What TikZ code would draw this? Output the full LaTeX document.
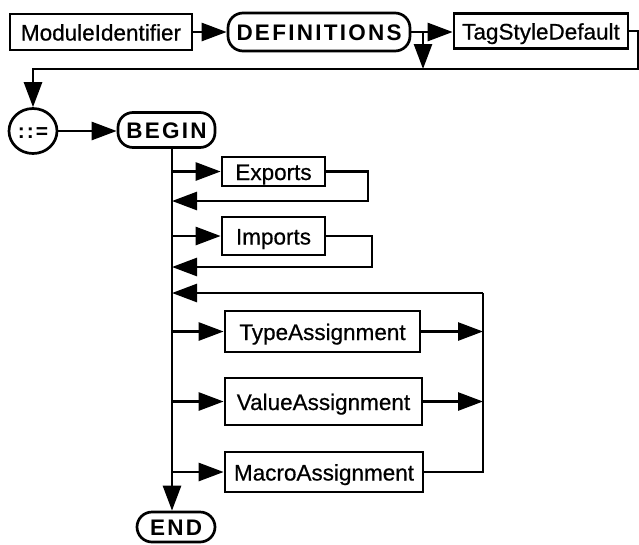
\documentclass[tikz,border=0pt]{standalone}
\usepackage{fontspec}
\setmainfont[FakeBold=0.6]{Liberation Sans}
\newfontfamily\kwfont[LetterSpace=10]{Liberation Sans}
\usetikzlibrary{arrows.meta,shapes.geometric}

\begin{document}
\begin{tikzpicture}[x=1pt,y=-1pt,line width=2.7pt,
  box/.style={draw,line width=2.7pt,inner sep=0pt,text height=17pt,text depth=0pt,
    font=\fontsize{22.5}{26}\selectfont},
  kw/.style={draw,line width=2.7pt,rounded corners=15pt,inner sep=0pt,text height=17pt,
    text depth=0pt,font=\kwfont\bfseries\fontsize{22.5}{26}\selectfont},
  arr/.style={-{Triangle[length=25pt,width=18pt]}}]
\useasboundingbox (0,0) rectangle (639,544);

% module header
\node[box,minimum width=182pt,minimum height=36pt] (mid) at (101,32) {ModuleIdentifier};
\node[kw,minimum width=182pt,minimum height=38pt] (defs) at (319,32) {DEFINITIONS};
\node[box,minimum width=174pt,minimum height=35pt] (tag) at (541,31) {TagStyleDefault};
\node[draw,ellipse,line width=2.7pt,minimum width=48pt,minimum height=45pt,inner sep=0pt,
  text height=15pt,text depth=0pt,
  font=\kwfont\bfseries\fontsize{21}{24}\selectfont] (ceq) at (33,131) {::=};
\node[kw,minimum width=97pt,minimum height=35pt] (begin) at (166.5,130) {BEGIN};

% module body
\node[box,minimum width=103pt,minimum height=29pt] (exp) at (273.5,171.5) {Exports};
\node[box,minimum width=103pt,minimum height=38pt] (imp) at (273.5,236) {Imports};
\node[box,minimum width=195pt,minimum height=41pt] (type) at (322.5,331.5) {TypeAssignment};
\node[box,minimum width=197pt,minimum height=47pt] (val) at (323.5,401.5) {ValueAssignment};
\node[box,minimum width=198pt,minimum height=40pt] (mac) at (324,472) {MacroAssignment};
\node[kw,minimum width=78pt,minimum height=30pt] (end) at (176,527) {END};

% routing points
\coordinate (split) at (423,32);
\coordinate (rtop) at (638,31);
\coordinate (rbot) at (638,69);
\coordinate (lbot) at (33,69);
\coordinate (trunk) at (172,0);
\coordinate (expR) at (368,201);
\coordinate (impR) at (372,267);
\coordinate (bus) at (483,293);

% header connectors
\draw[arr] (mid.east) -- (defs.west);
\draw[arr] (defs.east) -- (defs.east -| tag.west);
\draw[arr] (split) -- (split |- rbot);
\draw[arr] (tag.east) -- (rtop) -- (rbot) -- (lbot) -- (ceq.north);
\draw[arr] (ceq.east) -- (ceq.east -| begin.west);

% trunk
\draw[arr] (begin.south -| trunk) -- (end.north -| trunk);

% optional exports / imports
\draw[arr] (exp.west -| trunk) -- (exp.west);
\draw[arr] (exp.east) -| (expR) -- (expR -| trunk);
\draw[arr] (imp.west -| trunk) -- (imp.west);
\draw[arr] (imp.east) -| (impR) -- (impR -| trunk);

% repeated assignments
\draw[arr] (bus) -- (bus -| trunk);
\draw[arr] (type.west -| trunk) -- (type.west);
\draw[arr] (val.west -| trunk) -- (val.west);
\draw[arr] (mac.west -| trunk) -- (mac.west);
\draw[arr] (type.east) -- (type.east -| bus);
\draw[arr] (val.east) -- (val.east -| bus);
\draw (mac.east) -| (bus);
\end{tikzpicture}
\end{document}
